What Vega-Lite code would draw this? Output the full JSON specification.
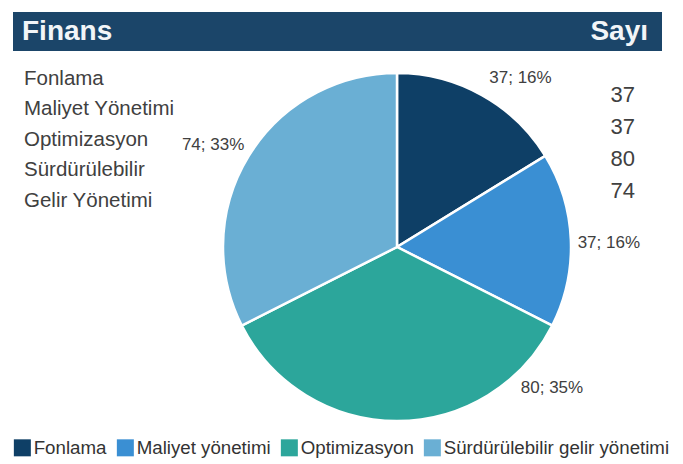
{
  "$schema": "https://vega.github.io/schema/vega-lite/v6.json",
  "width": 683,
  "height": 464,
  "autosize": "none",
  "padding": 0,
  "background": "white",
  "config": {"view": {"stroke": null}, "font": "Liberation Sans"},
  "datasets": {
    "finans": [
      {"kategori": "Fonlama", "ad": "Fonlama", "sayi": 37, "etiket": "37; 16%", "sira": 1},
      {"kategori": "Maliyet yönetimi", "ad": "Maliyet Yönetimi", "sayi": 37, "etiket": "37; 16%", "sira": 2},
      {"kategori": "Optimizasyon", "ad": "Optimizasyon", "sayi": 80, "etiket": "80; 35%", "sira": 3},
      {"kategori": "Sürdürülebilir gelir yönetimi", "ad": "Sürdürülebilir\nGelir Yönetimi", "sayi": 74, "etiket": "74; 33%", "sira": 4}
    ],
    "baslik": [{"sol": "Finans", "sag": "Sayı"}]
  },
  "resolve": {"scale": {"y": "independent"}},
  "layer": [
    {
      "data": {"name": "baslik"},
      "mark": {"type": "rect", "color": "#1b4569"},
      "encoding": {
        "x": {"datum": 13, "type": "quantitative", "scale": {"domain": [0, 683]}, "axis": null},
        "x2": {"datum": 662},
        "y": {"datum": 12, "type": "quantitative", "scale": {"domain": [0, 464], "reverse": true}, "axis": null},
        "y2": {"datum": 51}
      }
    },
    {
      "data": {"name": "baslik"},
      "mark": {"type": "text", "align": "left", "baseline": "middle", "fontSize": 28, "fontWeight": "bold", "color": "#f2f5f8"},
      "encoding": {
        "x": {"datum": 22, "type": "quantitative", "scale": {"domain": [0, 683]}, "axis": null},
        "y": {"datum": 32, "type": "quantitative", "scale": {"domain": [0, 464], "reverse": true}, "axis": null},
        "text": {"field": "sol"}
      }
    },
    {
      "data": {"name": "baslik"},
      "mark": {"type": "text", "align": "right", "baseline": "middle", "fontSize": 28, "fontWeight": "bold", "color": "#f2f5f8"},
      "encoding": {
        "x": {"datum": 648, "type": "quantitative", "scale": {"domain": [0, 683]}, "axis": null},
        "y": {"datum": 32, "type": "quantitative", "scale": {"domain": [0, 464], "reverse": true}, "axis": null},
        "text": {"field": "sag"}
      }
    },
    {
      "data": {"name": "finans"},
      "mark": {"type": "arc", "outerRadius": 174, "stroke": "white", "strokeWidth": 2.5},
      "encoding": {
        "x": {"datum": 397, "type": "quantitative", "scale": {"domain": [0, 683]}, "axis": null},
        "y": {"datum": 247, "type": "quantitative", "scale": {"domain": [0, 464], "reverse": true}, "axis": null},
        "theta": {"field": "sayi", "type": "quantitative", "stack": true},
        "order": {"field": "sira", "type": "quantitative"},
        "color": {
          "field": "kategori",
          "type": "nominal",
          "sort": ["Fonlama", "Maliyet yönetimi", "Optimizasyon", "Sürdürülebilir gelir yönetimi"],
          "scale": {
            "domain": ["Fonlama", "Maliyet yönetimi", "Optimizasyon", "Sürdürülebilir gelir yönetimi"],
            "range": ["#0e3f66", "#3a8fd3", "#2ca69b", "#6aafd4"]
          },
          "legend": {
            "title": null,
            "orient": "none",
            "legendX": 13,
            "legendY": 438,
            "direction": "horizontal",
            "columns": 4,
            "symbolType": "square",
            "symbolSize": 289,
            "symbolStrokeWidth": 0,
            "symbolOpacity": 1,
            "labelFontSize": 18.7,
            "labelColor": "#333333",
            "labelLimit": 400,
            "labelOffset": 2,
            "columnPadding": 9
          }
        }
      }
    },
    {
      "data": {"name": "finans"},
      "mark": {"type": "text", "radius": 210, "dx": 21, "dy": 14, "fontSize": 17, "color": "#404040", "align": "center", "baseline": "middle"},
      "encoding": {
        "x": {"datum": 397, "type": "quantitative", "scale": {"domain": [0, 683]}, "axis": null},
        "y": {"datum": 247, "type": "quantitative", "scale": {"domain": [0, 464], "reverse": true}, "axis": null},
        "theta": {"field": "sayi", "type": "quantitative", "stack": true},
        "order": {"field": "sira", "type": "quantitative"},
        "detail": {"field": "kategori"},
        "text": {"condition": {"test": "datum.kategori === 'Fonlama'", "field": "etiket"}, "value": ""}
      }
    },
    {
      "data": {"name": "finans"},
      "mark": {"type": "text", "radius": 210, "dx": 2, "dy": 5, "fontSize": 17, "color": "#404040", "align": "center", "baseline": "middle"},
      "encoding": {
        "x": {"datum": 397, "type": "quantitative", "scale": {"domain": [0, 683]}, "axis": null},
        "y": {"datum": 247, "type": "quantitative", "scale": {"domain": [0, 464], "reverse": true}, "axis": null},
        "theta": {"field": "sayi", "type": "quantitative", "stack": true},
        "order": {"field": "sira", "type": "quantitative"},
        "detail": {"field": "kategori"},
        "text": {"condition": {"test": "datum.kategori === 'Maliyet yönetimi'", "field": "etiket"}, "value": ""}
      }
    },
    {
      "data": {"name": "finans"},
      "mark": {"type": "text", "radius": 210, "dx": 155, "dy": -69, "fontSize": 17, "color": "#404040", "align": "center", "baseline": "middle"},
      "encoding": {
        "x": {"datum": 397, "type": "quantitative", "scale": {"domain": [0, 683]}, "axis": null},
        "y": {"datum": 247, "type": "quantitative", "scale": {"domain": [0, 464], "reverse": true}, "axis": null},
        "theta": {"field": "sayi", "type": "quantitative", "stack": true},
        "order": {"field": "sira", "type": "quantitative"},
        "detail": {"field": "kategori"},
        "text": {"condition": {"test": "datum.kategori === 'Optimizasyon'", "field": "etiket"}, "value": ""}
      }
    },
    {
      "data": {"name": "finans"},
      "mark": {"type": "text", "radius": 210, "dx": -5, "dy": 8, "fontSize": 17, "color": "#404040", "align": "center", "baseline": "middle"},
      "encoding": {
        "x": {"datum": 397, "type": "quantitative", "scale": {"domain": [0, 683]}, "axis": null},
        "y": {"datum": 247, "type": "quantitative", "scale": {"domain": [0, 464], "reverse": true}, "axis": null},
        "theta": {"field": "sayi", "type": "quantitative", "stack": true},
        "order": {"field": "sira", "type": "quantitative"},
        "detail": {"field": "kategori"},
        "text": {"condition": {"test": "datum.kategori === 'Sürdürülebilir gelir yönetimi'", "field": "etiket"}, "value": ""}
      }
    },
    {
      "data": {"name": "finans"},
      "mark": {"type": "text", "align": "left", "baseline": "alphabetic", "fontSize": 20.5, "lineBreak": "\n", "lineHeight": 31, "color": "#404040"},
      "encoding": {
        "x": {"datum": 24, "type": "quantitative", "scale": {"domain": [0, 683]}, "axis": null},
        "y": {"field": "kategori", "type": "ordinal", "sort": ["Fonlama", "Maliyet yönetimi", "Optimizasyon", "Sürdürülebilir gelir yönetimi"], "scale": {"type": "point", "range": [85, 176], "padding": 0}, "axis": null},
        "text": {"field": "ad"}
      }
    },
    {
      "data": {"name": "finans"},
      "mark": {"type": "text", "align": "right", "baseline": "alphabetic", "fontSize": 22, "color": "#404040"},
      "encoding": {
        "x": {"datum": 635, "type": "quantitative", "scale": {"domain": [0, 683]}, "axis": null},
        "y": {"field": "kategori", "type": "ordinal", "sort": ["Fonlama", "Maliyet yönetimi", "Optimizasyon", "Sürdürülebilir gelir yönetimi"], "scale": {"type": "point", "range": [102, 198], "padding": 0}, "axis": null},
        "text": {"field": "sayi"}
      }
    }
  ]
}
